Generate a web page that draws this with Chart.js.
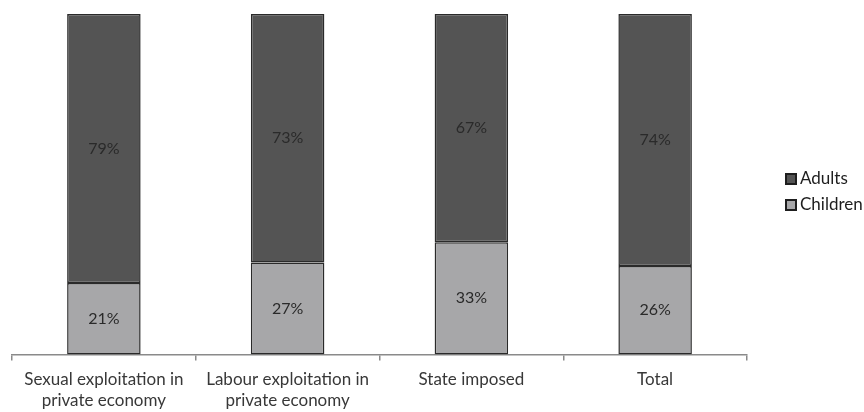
<!DOCTYPE html>
<html>
<head>
<meta charset="utf-8">
<script src="https://cdn.jsdelivr.net/npm/chart.js@4/dist/chart.umd.min.js"></script>
<style>
  html, body { margin: 0; padding: 0; background: #fff; }
  #wrap { width: 864px; height: 412px; position: relative; }
</style>
</head>
<body>
<div id="wrap"><canvas id="chart"></canvas></div>
<script>
// chart data
const categories = [
  ['Sexual exploitation in', 'private economy'],
  ['Labour exploitation in', 'private economy'],
  'State imposed',
  'Total'
];
const childrenShare = [21, 27, 33, 26];
const adultsShare = [79, 73, 67, 74];

const colors = {
  adults: '#545454',
  children: '#a7a7a9',
  border: '#2a2a2a',
  axis: '#8a8a8a',
  text: '#383838'
};
const fontFamily = 'Lato, "Open Sans", sans-serif';

// draws the percentage in the middle of each segment
const segmentLabels = {
  id: 'segmentLabels',
  afterDatasetsDraw(chart) {
    const ctx = chart.ctx;
    ctx.save();
    ctx.font = '16px ' + fontFamily;
    ctx.fillStyle = '#2a2a2a';
    ctx.textAlign = 'center';
    ctx.textBaseline = 'middle';
    chart.data.datasets.forEach((ds, i) => {
      const meta = chart.getDatasetMeta(i);
      meta.data.forEach((bar, j) => {
        const mid = (bar.y + bar.base) / 2;
        ctx.fillText(ds.data[j] + '%', bar.x, mid);
      });
    });
    ctx.restore();
  }
};

// legend on the right, Adults above Children
const sideLegend = {
  id: 'sideLegend',
  afterDraw(chart) {
    const ctx = chart.ctx;
    const items = chart.data.datasets.slice().reverse();
    ctx.save();
    ctx.font = '17px ' + fontFamily;
    ctx.textBaseline = 'middle';
    ctx.textAlign = 'left';
    items.forEach((ds, i) => {
      const y = 179 + i * 26;
      ctx.fillStyle = ds.backgroundColor;
      ctx.fillRect(786, y - 5, 10, 10);
      ctx.strokeStyle = '#1e1e1e';
      ctx.lineWidth = 2;
      ctx.strokeRect(786, y - 5, 10, 10);
      ctx.fillStyle = '#1e1e1e';
      ctx.fillText(ds.label, 800, y);
    });
    ctx.restore();
  }
};

new Chart(document.getElementById('chart'), {
  type: 'bar',
  data: {
    labels: categories,
    datasets: [
      {
        label: 'Children',
        data: childrenShare,
        backgroundColor: colors.children,
        borderColor: colors.border,
        borderWidth: 1.5,
        borderSkipped: false,
        barPercentage: 0.4,
        categoryPercentage: 1
      },
      {
        label: 'Adults',
        data: adultsShare,
        backgroundColor: colors.adults,
        borderColor: colors.border,
        borderWidth: 1.5,
        borderSkipped: false,
        barPercentage: 0.4,
        categoryPercentage: 1
      }
    ]
  },
  options: {
    responsive: true,
    maintainAspectRatio: false,
    animation: false,
    layout: {
      padding: { top: 14, left: 12, right: 117, bottom: -7 }
    },
    plugins: {
      tooltip: { enabled: false },
      legend: { display: false }
    },
    scales: {
      x: {
        stacked: true,
        grid: {
          offset: true,
          drawOnChartArea: false,
          drawTicks: true,
          tickLength: 6,
          color: colors.axis,
          lineWidth: 1.5
        },
        border: { display: true, color: colors.axis, width: 1.5 },
        ticks: {
          color: colors.text,
          padding: 8,
          maxRotation: 0,
          autoSkip: false,
          font: { family: fontFamily, size: 17, lineHeight: 1.25 }
        }
      },
      y: {
        stacked: true,
        display: false,
        min: 0,
        max: 100
      }
    }
  },
  plugins: [segmentLabels, sideLegend]
});
</script>
</body>
</html>
